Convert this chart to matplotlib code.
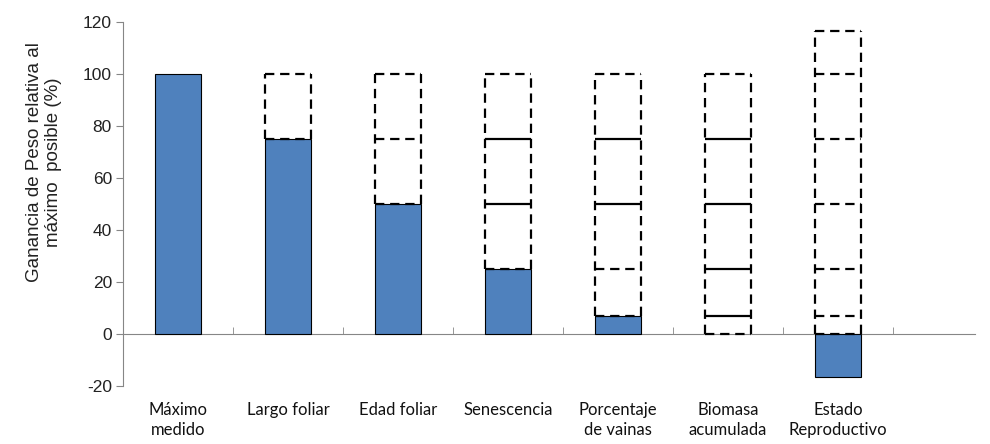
import matplotlib.pyplot as plt
from matplotlib.transforms import blended_transform_factory

plt.rcParams["axes.unicode_minus"] = False

# data
categories = ["Máximo\nmedido", "Largo foliar", "Edad foliar", "Senescencia",
              "Porcentaje\nde vainas", "Biomasa\nacumulada", "Estado\nReproductivo"]
filled = [100, 75, 50, 25, 6.8, 0, -16.5]          # solid blue bars
dashed_top = [100, 100, 100, 100, 100, 100, 116.5]  # top of the dashed stack
# boundaries inside dashed stacks that are drawn as solid lines
solid_edges = {3: [50, 75], 4: [50, 75], 5: [6.8, 25, 50, 75]}

blue = "#4F81BD"
axis_grey = "#868686"
width = 0.41
dash = (0, (4.2, 2.6))

fig = plt.figure(figsize=(9.9, 4.44), dpi=100)
ax = fig.add_axes([123 / 990, 1 - 386 / 444, 852 / 990, 364 / 444])

for i, val in enumerate(filled):
    # filled part
    if val != 0:
        ax.bar(i, val, width=width, color=blue, edgecolor="black", linewidth=0.8, zorder=2)
    if i == 0:
        continue

    # dashed stack: one box per level of the previous bars
    low = max(val, 0)
    top = dashed_top[i]
    levels = sorted({v for v in filled[:i] if v > low} | {top} | {low})
    x0, x1 = i - width / 2, i + width / 2
    for x in (x0, x1):
        ax.plot([x, x], [low, top], color="black", lw=1.6, linestyle=dash, zorder=3)
    for y in levels:
        if y in solid_edges.get(i, []):
            ax.plot([x0, x1], [y, y], color="black", lw=1.6, solid_capstyle="butt", zorder=4)
        else:
            ax.plot([x0, x1], [y, y], color="black", lw=1.6, linestyle=dash, zorder=4)

ax.set_xlim(-0.5, -0.5 + 852 / 110)
ax.set_ylim(-20, 120)
ax.set_yticks(range(-20, 121, 20))

for s in ["top", "right"]:
    ax.spines[s].set_visible(False)
ax.spines["bottom"].set_position(("data", 0))
ax.spines["bottom"].set_color(axis_grey)
ax.spines["left"].set_color(axis_grey)
ax.spines["bottom"].set_zorder(1)

ax.set_xticks([])
ax.set_xticks([k + 0.5 for k in range(len(categories))], minor=True)
ax.tick_params(axis="x", which="minor", direction="in", length=5, color=axis_grey,
               labelbottom=False)
ax.tick_params(axis="y", direction="out", length=5, color=axis_grey, pad=3,
               labelsize=12.5)
for lbl in ax.get_yticklabels():
    lbl.set_fontfamily("Liberation Sans")
    lbl.set_color("#222222")

trans = blended_transform_factory(ax.transData, ax.transAxes)
for i, name in enumerate(categories):
    ax.text(i, -0.045, name, transform=trans, ha="center", va="top",
            fontsize=12, family="Lato", linespacing=1.3, color="#111111")

ax.set_ylabel("Ganancia de Peso relativa al\nmáximo  posible (%)", family="Liberation Sans",
              fontsize=13.5, linespacing=1.1, color="#222222")
ax.yaxis.set_label_coords(-0.072, 0.615)

fig.savefig("out.png", dpi=100)
